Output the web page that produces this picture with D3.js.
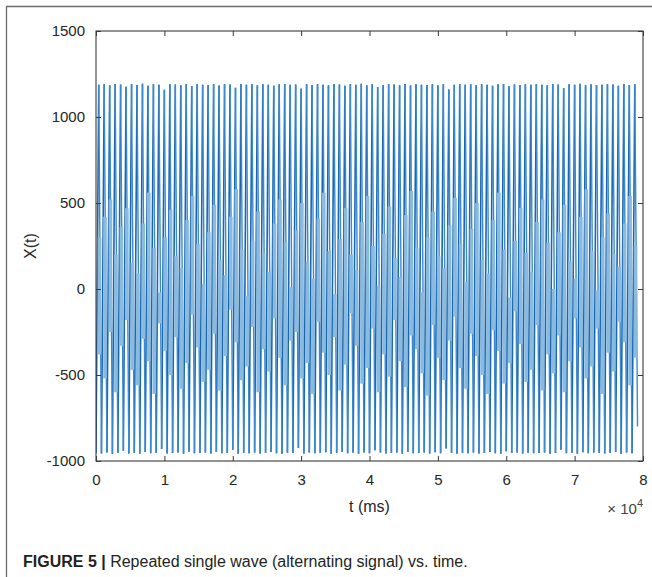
<!DOCTYPE html>
<html><head><meta charset="utf-8">
<script src="https://cdn.jsdelivr.net/npm/d3@7"></script>
<style>body{margin:0;background:#fff}</style>
</head><body><svg id="c" width="652" height="577"></svg>
<script>
// ---- data ----
const xTicks = [0, 10000, 20000, 30000, 40000, 50000, 60000, 70000, 80000];
const xTickLabels = ["0", "1", "2", "3", "4", "5", "6", "7", "8"];
const yTicks = [-1000, -500, 0, 500, 1000, 1500];
const yTickLabels = ["-1000", "-500", "0", "500", "1000", "1500"];
const period = 800; // ms per wave cycle (sampling grid of the trace)

// per-cycle maximum of the wave
const peaks = [
 1188,1190,1184,1192,1189,1176,1190,1186,1193,1181,
 1190,1187,1158,1191,1189,1185,1192,1180,1190,1188,
 1186,1191,1183,1190,1189,1170,1192,1187,1190,1185,
 1191,1188,1182,1190,1192,1187,1189,1165,1191,1186,
 1190,1188,1184,1192,1189,1181,1190,1187,1193,1185,
 1190,1174,1186,1191,1189,1185,1192,1183,1190,1188,
 1186,1191,1184,1190,1160,1187,1192,1188,1190,1185,
 1191,1188,1182,1190,1192,1179,1189,1186,1191,1187,
 1190,1188,1185,1192,1189,1168,1190,1187,1193,1184,
 1190,1186,1188,1191,1189,1182,1192,1186,1190
];
// per-cycle minimum of the wave (one extra for the closing stroke)
const troughs = [
 -955,-957,-950,-958,-954,-940,-956,-953,-958,-948,
 -955,-952,-930,-957,-954,-950,-958,-946,-955,-953,
 -951,-957,-948,-955,-954,-936,-958,-952,-955,-950,
 -957,-953,-947,-955,-958,-952,-954,-925,-957,-951,
 -955,-953,-949,-958,-954,-946,-955,-952,-958,-950,
 -955,-938,-951,-957,-954,-950,-958,-948,-955,-953,
 -951,-957,-949,-955,-928,-952,-958,-953,-955,-950,
 -957,-953,-947,-955,-958,-944,-954,-951,-957,-952,
 -955,-953,-950,-958,-954,-934,-955,-952,-958,-949,
 -955,-951,-953,-957,-954,-947,-958,-951,-955,-800
];
// upper / lower edge of the dense (fast oscillation) band inside each cycle
const bandTop = [
 300,420,520,200,360,470,150,90,380,560,
 240,-20,300,460,190,120,400,540,260,30,
 330,490,170,80,420,580,230,-40,280,450,
 210,100,380,520,270,10,340,500,160,60,
 410,560,220,-30,290,470,200,110,390,540,
 250,20,320,480,180,70,430,570,240,-20,
 300,450,190,120,370,530,260,40,350,500,
 170,90,400,560,230,-50,280,470,210,100,
 390,520,270,0,330,490,160,60,420,580,
 220,-10,300,440,200,130,380,540,250
];
const bandBottom = [
 -380,-520,-250,-600,-330,-180,-470,-560,-290,-420,
 -610,-200,-360,-500,-280,-580,-430,-150,-340,-540,
 -470,-260,-590,-390,-120,-310,-530,-450,-220,-600,
 -350,-480,-170,-400,-560,-300,-250,-520,-430,-610,
 -190,-370,-500,-280,-590,-440,-140,-330,-550,-460,
 -230,-600,-380,-510,-180,-420,-570,-270,-350,-490,
 -620,-210,-400,-530,-300,-160,-460,-580,-260,-390,
 -500,-610,-240,-360,-550,-430,-130,-320,-540,-470,
 -210,-590,-380,-490,-270,-600,-420,-170,-340,-520,
 -450,-230,-610,-370,-480,-190,-310,-560,-400
];

// ---- layout ----
const W = 652, H = 577;
const m = {left: 96, right: 643, top: 31, bottom: 461};
const svg = d3.select("#c");
svg.append("rect").attr("width", W).attr("height", H).attr("fill", "#fff");

const x = d3.scaleLinear().domain([0, 80000]).range([m.left, m.right]);
const y = d3.scaleLinear().domain([-1000, 1500]).range([m.bottom, m.top]);

// outer figure frame
svg.append("path").attr("d", `M6.5,${H} V6.5 H${W}`)
  .attr("fill", "none").attr("stroke", "#6b6b6b").attr("stroke-width", 1.3);

svg.append("clipPath").attr("id", "clip").append("rect")
  .attr("x", m.left).attr("y", m.top).attr("width", m.right - m.left).attr("height", m.bottom - m.top);
const plot = svg.append("g").attr("clip-path", "url(#clip)");

const n = peaks.length;
const cyc = d3.range(n).map(i => ({
  t: i * period, peak: peaks[i], lo: troughs[i], next: troughs[i + 1],
  top: bandTop[i], bot: bandBottom[i]
}));

const line = d3.line().x(p => x(p[0])).y(p => y(p[1]));
// rising strokes
plot.append("path")
  .attr("d", cyc.map(d => line([[d.t, d.lo], [d.t + period / 2, d.peak]])).join(""))
  .attr("fill", "none").attr("stroke", "#1a66b1").attr("stroke-width", 1.6);
// falling strokes
plot.append("path")
  .attr("d", cyc.map(d => line([[d.t + period / 2, d.peak], [d.t + period, d.next]])).join(""))
  .attr("fill", "none").attr("stroke", "#3a8ad0").attr("stroke-width", 1.4);

// dense band (fast oscillation blurs into a light fill)
plot.append("g").selectAll("rect").data(cyc).join("rect")
  .attr("x", d => x(d.t + 250))
  .attr("width", d => x(d.t + 780) - x(d.t + 250))
  .attr("y", d => y(d.top))
  .attr("height", d => y(d.bot) - y(d.top))
  .attr("fill", "#8bbadf");

// axes box
const axisColor = "#3a3a3a";
svg.append("rect").attr("x", m.left).attr("y", m.top)
  .attr("width", m.right - m.left).attr("height", m.bottom - m.top)
  .attr("fill", "none").attr("stroke", axisColor).attr("stroke-width", 1.1);

const font = "Liberation Sans, Arial, sans-serif";
const xb = svg.append("g").attr("transform", `translate(0,${m.bottom})`)
  .call(d3.axisBottom(x).tickValues(xTicks).tickFormat((d, i) => xTickLabels[i]).tickSizeInner(-5).tickSizeOuter(0).tickPadding(13));
const xt = svg.append("g").attr("transform", `translate(0,${m.top})`)
  .call(d3.axisTop(x).tickValues(xTicks).tickFormat("").tickSizeInner(-5).tickSizeOuter(0));
const yl = svg.append("g").attr("transform", `translate(${m.left},0)`)
  .call(d3.axisLeft(y).tickValues(yTicks).tickFormat((d, i) => yTickLabels[i]).tickSizeInner(-5).tickSizeOuter(0).tickPadding(11));
const yr = svg.append("g").attr("transform", `translate(${m.right},0)`)
  .call(d3.axisRight(y).tickValues(yTicks).tickFormat("").tickSizeInner(-5).tickSizeOuter(0));
[xb, xt, yl, yr].forEach(g => {
  g.select(".domain").remove();
  g.selectAll("line").attr("stroke", axisColor);
  g.selectAll("text").attr("font-family", font).attr("font-size", 15).attr("fill", "#262626");
});

// exponent label
const ex = svg.append("text").attr("x", m.right).attr("y", 514).attr("text-anchor", "end")
  .attr("font-family", font).attr("font-size", 15).attr("fill", "#444");
ex.append("tspan").text("\u00d7 10");
ex.append("tspan").attr("dy", -7).attr("font-size", 11).text("4");

// axis titles
svg.append("text").attr("x", (m.left + m.right) / 2).attr("y", 512).attr("text-anchor", "middle")
  .attr("font-family", font).attr("font-size", 16).attr("fill", "#262626").text("t (ms)");
svg.append("text").attr("transform", `translate(36,${(m.top + m.bottom) / 2}) rotate(-90)`)
  .attr("text-anchor", "middle").attr("font-family", font).attr("font-size", 16).attr("fill", "#262626").text("X(t)");

// caption
const cap = svg.append("text").attr("x", 23).attr("y", 567)
  .attr("font-family", font).attr("font-size", 16).attr("fill", "#231f20");
cap.append("tspan").attr("font-weight", "bold").text("FIGURE 5 | ");
cap.append("tspan").text("Repeated single wave (alternating signal) vs. time.");
</script></body></html>
